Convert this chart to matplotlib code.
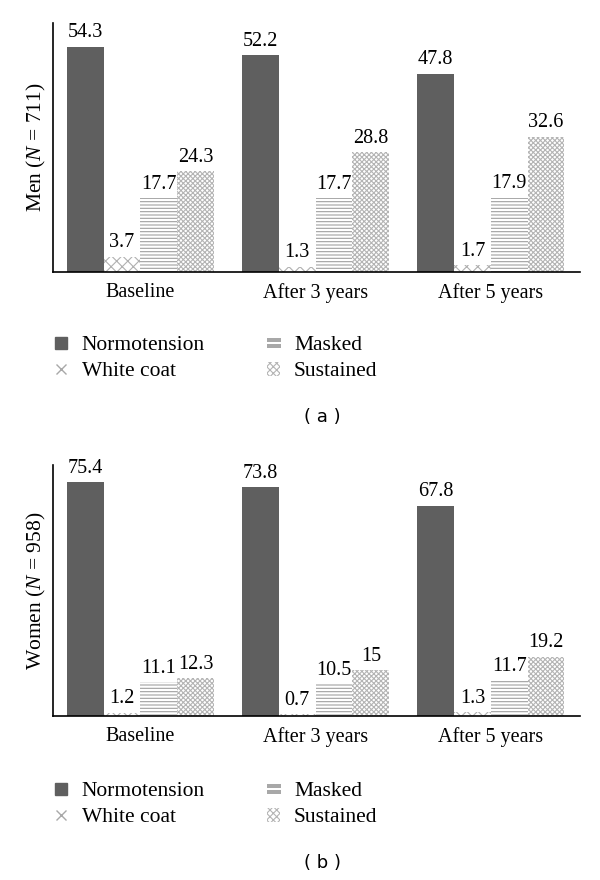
import numpy as np
import matplotlib
matplotlib.use("Agg")
from matplotlib import pyplot as plt
from matplotlib.patches import Patch
from matplotlib.lines import Line2D
from matplotlib.path import Path

# groups and series
groups = ["Baseline", "After 3 years", "After 5 years"]
series = ["Normotension", "White coat", "Masked", "Sustained"]

men_normo = [54.3, 52.2, 47.8]
men_white = [3.7, 1.3, 1.7]
men_masked = [17.7, 17.7, 17.9]
men_sustained = [24.3, 28.8, 32.6]

women_normo = [75.4, 73.8, 67.8]
women_white = [1.2, 0.7, 1.3]
women_masked = [11.1, 10.5, 11.7]
women_sustained = [12.3, 15, 19.2]

men_labels = [["54.3", "52.2", "47.8"], ["3.7", "1.3", "1.7"],
              ["17.7", "17.7", "17.9"], ["24.3", "28.8", "32.6"]]
women_labels = [["75.4", "73.8", "67.8"], ["1.2", "0.7", "1.3"],
                ["11.1", "10.5", "11.7"], ["12.3", "15", "19.2"]]

plt.rcParams['font.family'] = ['Liberation Serif', 'DejaVu Serif']
plt.rcParams['mathtext.fontset'] = 'custom'
plt.rcParams['mathtext.it'] = 'Liberation Serif:italic'
plt.rcParams['mathtext.rm'] = 'Liberation Serif'
plt.rcParams['hatch.linewidth'] = 0.8

# style per series: facecolor, hatch colour, hatch
styles = [
    ("#5f5f5f", "#5f5f5f", None),
    ("white", "#b0b0b0", "xxx"),
    ("white", "#a0a0a0", "-----"),
    ("white", "#b4b4b4", "xxxxxxx"),
]

# "=" shaped marker for the Masked legend entry
eq_marker = Path([(-1, 0.15), (1, 0.15), (1, 0.65), (-1, 0.65), (-1, 0.15),
                  (-1, -0.65), (1, -0.65), (1, -0.15), (-1, -0.15), (-1, -0.65)],
                 [Path.MOVETO, Path.LINETO, Path.LINETO, Path.LINETO, Path.CLOSEPOLY,
                  Path.MOVETO, Path.LINETO, Path.LINETO, Path.LINETO, Path.CLOSEPOLY])

fig = plt.figure(figsize=(6, 8.8), dpi=100)
width = 0.21
offsets = (np.arange(4) - 1.5) * width
x = np.arange(len(groups))


def draw_panel(ax, data, labels, ymax, ylabel_pre, n_text):
    for k, vals in enumerate(data):
        fc, hc, hatch = styles[k]
        ax.bar(x + offsets[k], vals, width, color=fc, edgecolor=hc,
               hatch=hatch, linewidth=0, label=series[k])
        for i, v in enumerate(vals):
            ax.annotate(labels[k][i], (x[i] + offsets[k], v),
                        xytext=(0, 3), textcoords="offset points",
                        ha="center", va="bottom", fontsize=14.5)
    ax.set_xlim(-0.5, 2.51)
    ax.set_ylim(0, ymax)
    ax.spines['top'].set_visible(False)
    ax.spines['right'].set_visible(False)
    ax.spines['left'].set_linewidth(1.2)
    ax.spines['bottom'].set_linewidth(1.2)
    ax.set_yticks([])
    ax.set_xticks(x)
    ax.set_xticklabels(groups, fontsize=14.5)
    ax.tick_params(axis='x', length=0, pad=8)
    ax.set_ylabel(ylabel_pre + r"($\mathit{N}$ = " + n_text + ")",
                  fontsize=15.5, labelpad=3.5)


ax1 = fig.add_axes([0.088, 0.691, 0.879, 0.283])
draw_panel(ax1, [men_normo, men_white, men_masked, men_sustained],
           men_labels, 60, "Men ", "711")

ax2 = fig.add_axes([0.088, 0.186, 0.879, 0.286])
draw_panel(ax2, [women_normo, women_white, women_masked, women_sustained],
           women_labels, 81, "Women ", "958")

for ytop in [1 - 336 / 880, 1 - 782 / 880]:
    handles = [
        Line2D([], [], ls="none", marker="s", ms=8.5, color="#5f5f5f",
               label=series[0]),
        Line2D([], [], ls="none", marker="x", ms=7, mew=1.0, color="#a8a8a8",
               label=series[1]),
        Line2D([], [], ls="none", marker=eq_marker, ms=10, mew=0,
               color="#a8a8a8", label=series[2]),
        Patch(facecolor="white", edgecolor="#b4b4b4", hatch="xxxxx",
              linewidth=0, label=series[3]),
    ]
    fig.legend(handles=handles, ncol=2, loc="upper left",
               bbox_to_anchor=(0.091, ytop), frameon=False,
               fontsize=15.5, handlelength=0.6, handleheight=0.6,
               handletextpad=0.65, columnspacing=2.9, labelspacing=0.3,
               borderpad=0, borderaxespad=0)

fig.text(0.537, 1 - 417 / 880, "( a )", ha="center", va="center",
         fontsize=13, family="DejaVu Sans")
fig.text(0.537, 1 - 863 / 880, "( b )", ha="center", va="center",
         fontsize=13, family="DejaVu Sans")

plt.savefig("out.png", dpi=100)
